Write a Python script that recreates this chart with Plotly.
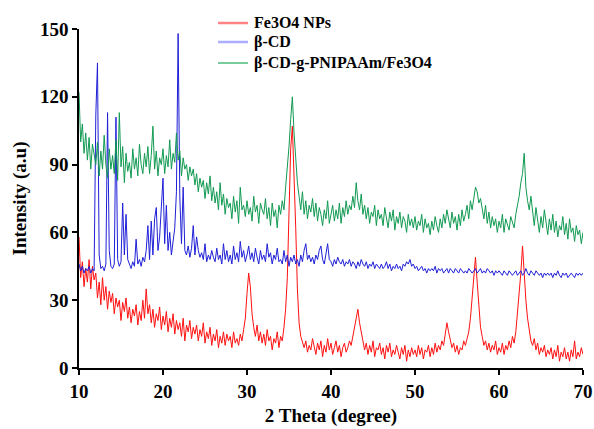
import numpy as np
import plotly.graph_objects as go

# 2-theta grid (degrees), step 0.2 from 10 to 70
two_theta_start = 10.0
two_theta_step = 0.2

fe3o4_nps = [
    58, 40, 47, 36, 44, 38, 48, 35, 45, 39,
    42, 31, 38, 28, 40, 30, 36, 26, 34, 29,
    33, 24, 31, 27, 30, 21, 29, 25, 31, 22,
    27, 20, 26, 23, 28, 19, 25, 21, 30, 22,
    35, 24, 28, 20, 26, 18, 24, 21, 27, 17,
    23, 19, 25, 16, 22, 18, 24, 15, 21, 17,
    20, 14, 22, 12, 19, 16, 21, 13, 18, 15,
    19, 12, 17, 14, 20, 11, 16, 13, 18, 10,
    15, 12, 17, 9, 14, 11, 16, 10, 15, 12,
    14, 9, 16, 11, 13, 10, 15, 12, 17, 22,
    33, 42, 36, 24, 18, 14, 19, 12, 16, 11,
    15, 10, 17, 12, 14, 8, 13, 11, 16, 9,
    14, 12, 18, 26, 40, 70, 97, 107, 88, 62,
    35, 20, 14, 11, 9, 12, 7, 10, 8, 13,
    9, 6, 11, 8, 12, 5, 10, 7, 13, 8,
    11, 6, 9, 12, 7, 10, 5, 9, 11, 7,
    9, 12, 10, 14, 17, 21, 26, 20, 15, 12,
    8, 11, 6, 10, 7, 12, 5, 9, 8, 11,
    6, 9, 4, 10, 7, 11, 5, 8, 6, 10,
    7, 4, 9, 6, 10, 3, 8, 5, 9, 6,
    8, 5, 10, 6, 9, 4, 8, 7, 10, 5,
    9, 6, 11, 7, 10, 8, 12, 10, 15, 20,
    16, 12, 9, 11, 7, 10, 6, 9, 8, 12,
    10, 13, 16, 22, 32, 42, 49, 38, 26, 18,
    14, 10, 12, 8, 11, 7, 10, 8, 12, 6,
    9, 7, 11, 6, 10, 8, 12, 9, 14, 11,
    16, 24, 34, 42, 54, 40, 30, 22, 16, 12,
    10, 13, 8, 11, 6, 9, 7, 10, 5, 8,
    6, 9, 4, 8, 5, 10, 3, 7, 5, 9,
    4, 7, 3, 8, 5, 12, 4, 7, 5, 9,
    6,
]

beta_cd = [
    46, 43, 45, 42, 44, 43, 45, 42, 44, 43,
    112, 135, 50, 44, 45, 43, 46, 113, 52, 45,
    44, 46, 111, 48, 45, 47, 73, 50, 68, 48,
    46, 44, 47, 45, 57, 46, 48, 45, 49, 47,
    52, 63, 48, 65, 50, 66, 71, 52, 58, 72,
    84, 55, 72, 52, 60, 50, 56, 62, 78, 148,
    76, 55, 80, 52, 50, 54, 49, 53, 63, 50,
    58, 52, 49, 51, 48, 55, 47, 50, 48, 52,
    49, 47, 53, 48, 50, 46, 55, 48, 52, 47,
    50, 46, 54, 48, 51, 47, 56, 49, 52, 47,
    50, 54, 48, 51, 47, 53, 49, 46, 52, 48,
    50, 47, 55, 49, 51, 46, 50, 48, 53, 47,
    48, 46, 52, 47, 50, 45, 49, 47, 50, 46,
    48, 45, 50, 47, 52, 55, 48, 50, 47, 49,
    46, 50, 48, 52, 54, 48, 46, 50, 55, 48,
    47, 45, 48, 46, 49, 47, 46, 48, 45, 47,
    46, 48, 45, 47, 46, 44, 47, 45, 48, 46,
    45, 47, 44, 46, 45, 47, 44, 46, 45, 44,
    46, 44, 45, 47, 44, 46, 43, 45, 44, 46,
    44, 45, 43, 46, 45, 47, 46, 48, 45, 46,
    44, 45, 43, 44, 45, 43, 44, 42, 44, 43,
    44, 43, 45, 42, 44, 43, 44, 42, 43, 44,
    42, 44, 43, 42, 44, 43, 42, 44, 43, 42,
    43, 42, 44, 43, 42, 43, 44, 42, 43, 44,
    42, 43, 42, 44, 43, 42, 43, 41, 43, 42,
    43, 42, 41, 43, 42, 41, 43, 42, 41, 42,
    43, 41, 42, 43, 41, 42, 44, 42, 41, 43,
    42, 41, 43, 42, 41, 42, 40, 42, 41, 42,
    41, 42, 40, 42, 41, 43, 41, 40, 42, 41,
    42, 40, 41, 42, 41, 40, 42, 41, 42, 41,
    42,
]

composite = [
    122, 100, 108, 95, 104, 92, 102, 88, 99, 94,
    90, 100, 85, 96, 88, 103, 90, 84, 97, 88,
    94, 86, 101, 83, 113, 89, 98, 82, 95, 87,
    91, 84, 97, 88, 93, 85, 99, 90, 86, 95,
    89, 98, 86, 94, 107, 88, 96, 85, 93, 90,
    97, 86, 94, 89, 101, 88, 95, 91, 104, 92,
    96, 85, 93, 88, 90, 83, 89, 85, 88, 81,
    86, 78, 84, 80, 83, 75, 82, 77, 85, 74,
    80, 73, 78, 70, 82, 72, 77, 68, 75, 71,
    73, 66, 76, 69, 74, 64, 80, 70, 72, 67,
    74, 68, 71, 65, 76, 69, 72, 64, 73, 70,
    68, 75, 66, 71, 63, 73, 67, 70, 62, 72,
    68, 74, 70, 80, 88, 98, 110, 120, 104, 90,
    82, 76, 70, 78, 68, 74, 66, 72, 69, 75,
    67, 73, 65, 71, 68, 63, 70, 66, 74, 64,
    69, 72, 65, 70, 66, 73, 64, 71, 67, 74,
    68, 72, 70, 76, 71, 82, 74, 70, 77, 68,
    72, 66, 71, 64, 69, 67, 72, 63, 70, 66,
    68, 63, 71, 66, 62, 69, 65, 70, 61, 67,
    64, 69, 62, 67, 65, 60, 68, 63, 66, 62,
    67, 61, 65, 63, 68, 60, 66, 62, 64, 59,
    65, 61, 67, 63, 60, 66, 62, 68, 64, 70,
    66, 62, 69, 64, 67, 61, 68, 63, 70, 65,
    68, 72, 66, 74, 70, 76, 80, 78, 73, 75,
    70, 66, 72, 64, 69, 62, 67, 63, 66, 60,
    65, 62, 68, 60, 66, 63, 61, 67, 64, 62,
    68, 72, 76, 82, 86, 95, 80, 74, 70, 76,
    68, 63, 71, 65, 60, 67, 62, 70, 64, 59,
    66, 61, 68, 60, 65, 58, 63, 61, 67, 59,
    64, 57, 66, 60, 62, 56, 63, 59, 61, 55,
    60,
]

series_names = ["Fe3O4 NPs", "β-CD", "β-CD-g-PNIPAAm/Fe3O4"]
series_colors = ["#ff1010", "#1f1fd8", "#119a52"]
legend_colors = ["rgba(255,90,90,0.75)", "rgba(120,120,255,0.6)", "rgba(30,170,90,0.8)"]
legend_widths = [2.5, 2.5, 1.5]
x_ticks = [10, 20, 30, 40, 50, 60, 70]
y_ticks = [0, 30, 60, 90, 120, 150]

two_theta = np.round(two_theta_start + two_theta_step * np.arange(len(fe3o4_nps)), 1)

fig = go.Figure()
for name, ys, col in zip(series_names, [fe3o4_nps, beta_cd, composite], series_colors):
    fig.add_trace(go.Scatter(x=two_theta, y=ys, mode="lines", name=name,
                             line=dict(color=col, width=1), showlegend=False))

font_family = "Liberation Serif"

# page geometry used to place the hand-drawn legend (paper coordinates)
plot_left, plot_right, plot_top, plot_bottom = 79, 583, 29, 368
def px_to_paper(px, py):
    return ((px - plot_left) / (plot_right - plot_left),
            (plot_bottom - py) / (plot_bottom - plot_top))

legend_rows_px = [23, 42, 63]
for name, lc, lw, row in zip(series_names, legend_colors, legend_widths, legend_rows_px):
    x0, yy = px_to_paper(218, row)
    x1, _ = px_to_paper(248, row)
    xt, _ = px_to_paper(252, row)
    fig.add_shape(type="line", xref="paper", yref="paper", x0=x0, x1=x1, y0=yy, y1=yy,
                  line=dict(color=lc, width=lw))
    fig.add_annotation(xref="paper", yref="paper", x=xt, y=yy, xanchor="left", yanchor="middle",
                       text=name, showarrow=False,
                       font=dict(family=font_family, size=16, color="black", weight="bold"))

fig.update_layout(
    width=594, height=429,
    margin=dict(l=79, r=11, t=29, b=61, autoexpand=False),
    paper_bgcolor="white", plot_bgcolor="white",
    font=dict(family=font_family, color="black"),
    showlegend=False,
    xaxis=dict(range=[10, 70], tickvals=x_ticks, showgrid=False, zeroline=False,
               automargin=False,
               showline=True, linecolor="black", linewidth=1.5,
               ticks="outside", ticklen=5, tickwidth=1.5, tickcolor="black",
               tickfont=dict(family=font_family, size=19, color="black", weight="bold"),
               title=dict(text="2 Theta (degree)", standoff=8,
                          font=dict(family=font_family, size=19, color="black", weight="bold"))),
    yaxis=dict(range=[0, 150], tickvals=y_ticks, showgrid=False, zeroline=False,
               automargin=False,
               showline=True, linecolor="black", linewidth=1.5,
               ticks="outside", ticklen=5, tickwidth=1.5, tickcolor="black",
               tickfont=dict(family=font_family, size=19, color="black", weight="bold"),
               title=dict(text="Intensity (a.u)", standoff=8,
                          font=dict(family=font_family, size=19, color="black", weight="bold"))),
)

fig.write_html("out.html")
